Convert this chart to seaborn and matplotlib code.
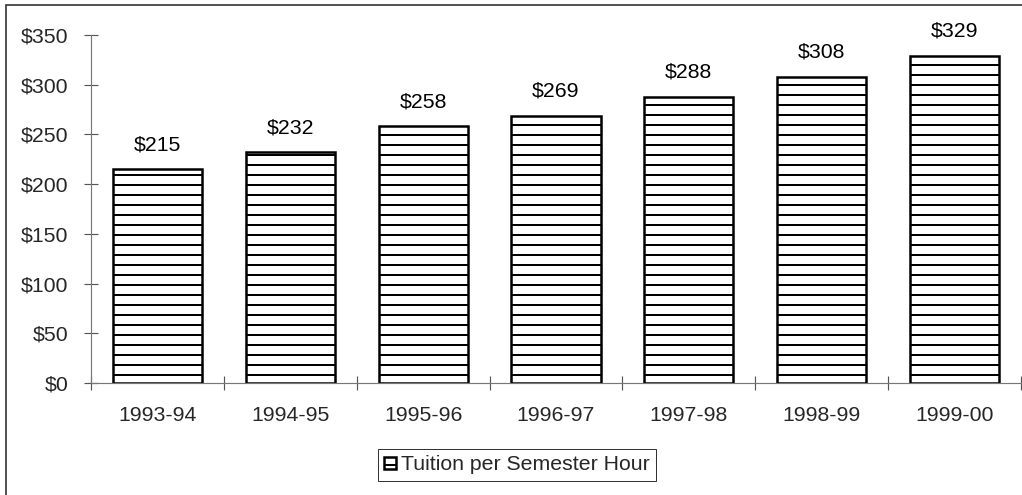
import matplotlib
matplotlib.use("Agg")
import matplotlib.pyplot as plt
import matplotlib.patches as mpatches
import seaborn as sns
import pandas as pd

# Tuition per semester hour by academic year
years = ["1993-94", "1994-95", "1995-96", "1996-97", "1997-98", "1998-99", "1999-00"]
tuition = [215, 232, 258, 269, 288, 308, 329]
yticks = [0, 50, 100, 150, 200, 250, 300, 350]
series_label = "Tuition per Semester Hour"

DPI = 60
FONT = 25.5

sns.set_theme(style="white")
plt.rcParams["font.family"] = ["Liberation Sans", "DejaVu Sans"]
plt.rcParams["hatch.linewidth"] = 2.4
plt.rcParams["hatch.color"] = "#404040"

df = pd.DataFrame({"year": years, "tuition": tuition})

fig = plt.figure(figsize=(1022 / DPI, 495 / DPI), dpi=DPI)
ax = fig.add_axes([91 / 1022, 1 - 383 / 495, 930 / 1022, 348 / 495])

sns.barplot(data=df, x="year", y="tuition", color="white", edgecolor="black",
            linewidth=3, width=0.67, hatch="-", saturation=1, ax=ax)
for p in ax.patches:
    p.set_facecolor("white")

# value labels above each bar
for i, v in enumerate(tuition):
    ax.annotate(f"${v}", xy=(i, v), xytext=(0, 18), textcoords="offset points",
                ha="center", va="bottom", fontsize=FONT, color="black")

ax.set_ylim(0, 350)
ax.set_xlim(-0.5, len(years) - 0.5)
ax.set_yticks(yticks)
ax.set_yticklabels([f"${t}" for t in yticks], fontsize=FONT)
ax.set_xticks(range(len(years)))
ax.set_xticklabels(years, fontsize=FONT)
ax.set_xlabel("")
ax.set_ylabel("")

# category separators on the x axis
ax.set_xticks([i - 0.5 for i in range(len(years) + 1)], minor=True)
ax.tick_params(axis="x", which="major", bottom=False, length=0, pad=28)
ax.tick_params(axis="x", which="minor", bottom=True, direction="inout", length=16,
               width=1.4, color="#555555")
ax.tick_params(axis="y", which="major", left=True, direction="inout", length=16,
               width=1.4, color="#555555", pad=19)

for side in ["top", "right"]:
    ax.spines[side].set_visible(False)
for side in ["left", "bottom"]:
    ax.spines[side].set_color("#777777")
    ax.spines[side].set_linewidth(1.4)
ax.grid(False)

# legend
handle = mpatches.Patch(facecolor="white", edgecolor="black", linewidth=3, hatch="-")
fig.legend([handle], [series_label], loc="center", bbox_to_anchor=(517 / 1022, 1 - 465 / 495),
           fontsize=FONT, frameon=True, fancybox=False, edgecolor="black",
           handlelength=0.55, handleheight=0.55, handletextpad=0.25, borderpad=0.3,
           borderaxespad=0)
leg = fig.legends[0]
leg.get_frame().set_linewidth(1.2)

# chart frame
frame = mpatches.Rectangle((6 / 1022, -0.1), 1.2, 1.1 - 5 / 495, transform=fig.transFigure,
                           fill=False, edgecolor="#333333", linewidth=2, clip_on=False)
fig.patches.append(frame)

fig.savefig("out.png", dpi=DPI, facecolor="white")
